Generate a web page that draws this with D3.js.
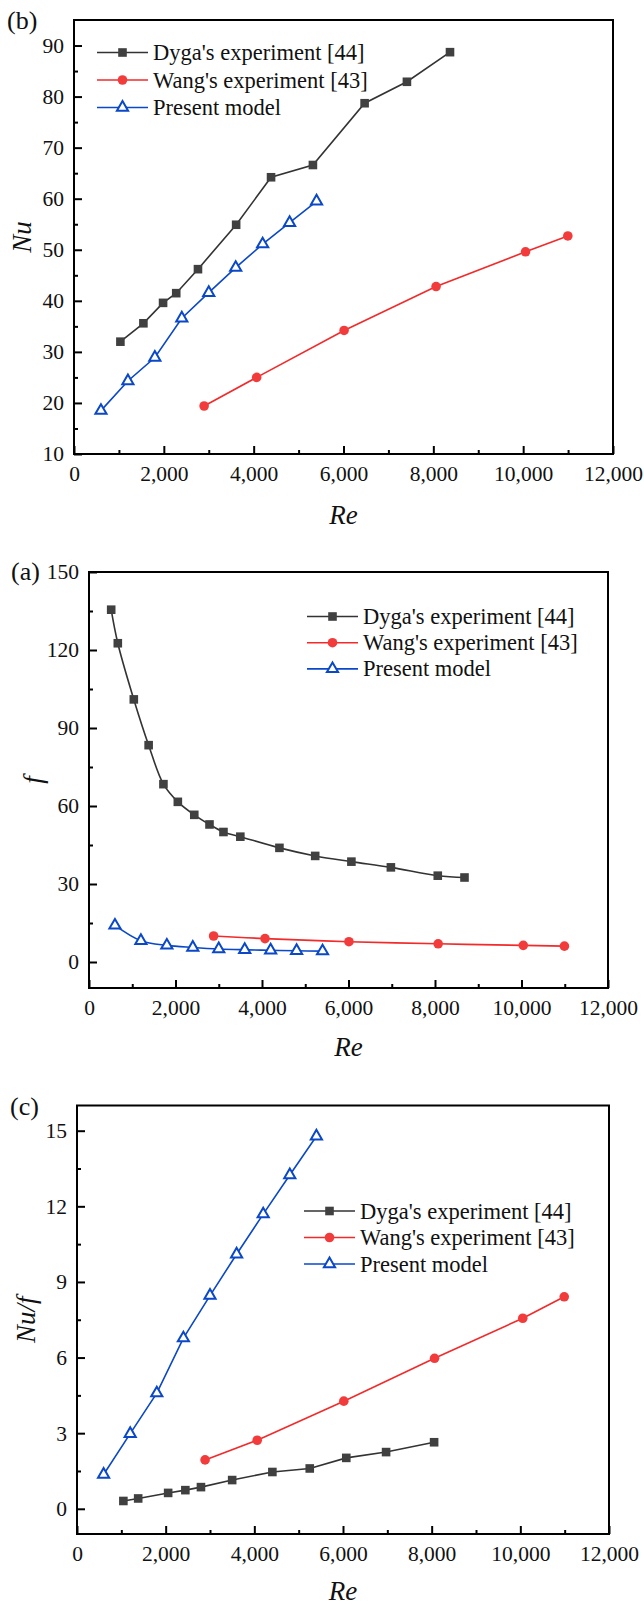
<!DOCTYPE html>
<html>
<head>
<meta charset="utf-8">
<script src="https://cdn.jsdelivr.net/npm/d3@7"></script>
<style>
  body { margin: 0; background: #fff; }
  svg, svg text { font-family: "Liberation Serif", "Tinos", "Times New Roman", "DejaVu Serif", serif; }
</style>
</head>
<body>
<svg id="chart" width="644" height="1605"></svg>
<script>
// ---------- DATA ----------
const seriesNames = ["Dyga's experiment [44]", "Wang's experiment [43]", "Present model"];
const xTicks = [0, 2000, 4000, 6000, 8000, 10000, 12000];

// Panel (b): Nu vs Re
const dygaNuRe = [1033, 1545, 1983, 2276, 2760, 3610, 4387, 5319, 6470, 7412, 8371];
const dygaNu   = [32.0, 35.6, 39.6, 41.5, 46.2, 54.9, 64.2, 66.6, 78.7, 82.9, 88.7];
const wangNuRe = [2897, 4067, 6013, 8061, 10053, 10994];
const wangNu   = [19.4, 25.0, 34.2, 42.8, 49.6, 52.7];
const presentRe = [600, 1200, 1800, 2400, 3000, 3600, 4200, 4800, 5400];
const presentNu = [18.5, 24.3, 28.9, 36.6, 41.6, 46.5, 51.1, 55.3, 59.5];
const nuTicks = [10, 20, 30, 40, 50, 60, 70, 80, 90];

// Panel (a): f vs Re
const dygaFRe = [513, 666, 1036, 1379, 1721, 2054, 2434, 2786, 3109, 3499, 4403, 5230, 6067, 6980, 8064, 8682];
const dygaF   = [135.5, 122.6, 101.0, 83.4, 68.4, 61.6, 56.6, 52.9, 50.0, 48.2, 43.9, 40.8, 38.6, 36.4, 33.2, 32.5];
const wangFRe = [2881, 4070, 6010, 8073, 10041, 10992];
const wangF   = [10.0, 9.0, 7.8, 7.0, 6.4, 6.1];
const presentF = [14.1, 8.2, 6.4, 5.6, 5.0, 4.7, 4.5, 4.3, 4.2];
const fTicks = [0, 30, 60, 90, 120, 150];

// Panel (c): Nu/f vs Re
const dygaRatioRe = [1046, 1380, 2056, 2444, 2796, 3500, 4407, 5250, 6074, 6972, 8055];
const dygaRatio   = [0.31, 0.41, 0.63, 0.74, 0.86, 1.14, 1.46, 1.60, 2.02, 2.25, 2.64];
const wangRatioRe = [2889, 4065, 6018, 8065, 10055, 10990];
const wangRatio   = [1.94, 2.72, 4.27, 5.97, 7.56, 8.41];
const presentRatio = [1.36, 2.98, 4.59, 6.77, 8.46, 10.10, 11.69, 13.24, 14.78];
const ratioTicks = [0, 3, 6, 9, 12, 15];

// ---------- STYLE ----------
const FONT = '"Liberation Serif", "Tinos", "Times New Roman", "DejaVu Serif", serif';
const colors = { dyga: "#333333", dygaMark: "#404040", wang: "#f22a2a", wangMark: "#f23c3c", present: "#0a48c8" };

const svg = d3.select("#chart");
const zip = (xs, ys) => xs.map((x, i) => [x, ys[i]]);

function panel(cfg) {
  const x = d3.scaleLinear().domain([0, 12000]).range([cfg.left, cfg.right]);
  const y = d3.scaleLinear().domain(cfg.yDomain).range([cfg.bottom, cfg.top]);
  const g = svg.append("g").attr("font-family", FONT);

  const step = cfg.yTicks[1] - cfg.yTicks[0];
  const xMinor = d3.range(1000, 12000, 2000);
  const yMinor = cfg.yTicks.slice(0, -1).map(t => t + step / 2);
  if (cfg.yTicks[cfg.yTicks.length - 1] + step / 2 < cfg.yDomain[1]) yMinor.push(cfg.yTicks[cfg.yTicks.length - 1] + step / 2);
  if (cfg.yTicks[0] - step / 2 > cfg.yDomain[0]) yMinor.unshift(cfg.yTicks[0] - step / 2);

  g.append("g").attr("transform", `translate(0,${cfg.bottom})`)
    .call(d3.axisBottom(x).tickValues(xTicks).tickSize(-8).tickPadding(12).tickFormat(d3.format(",")));
  g.append("g").attr("transform", `translate(0,${cfg.bottom})`)
    .call(d3.axisBottom(x).tickValues(xMinor).tickSize(-4).tickFormat(""));
  g.append("g").attr("transform", `translate(${cfg.left},0)`)
    .call(d3.axisLeft(y).tickValues(cfg.yTicks).tickSize(-8).tickPadding(10).tickFormat(d3.format(",")));
  g.append("g").attr("transform", `translate(${cfg.left},0)`)
    .call(d3.axisLeft(y).tickValues(yMinor).tickSize(-4).tickFormat(""));

  g.selectAll(".domain").remove();
  g.selectAll("g").attr("font-family", FONT);
  g.selectAll(".tick line").attr("stroke", "#000").attr("stroke-width", 2);
  g.selectAll(".tick text").attr("font-size", 21.5).attr("fill", "#111").attr("font-family", FONT);

  g.append("rect").attr("x", cfg.left).attr("y", cfg.top)
    .attr("width", cfg.right - cfg.left).attr("height", cfg.bottom - cfg.top)
    .attr("fill", "none").attr("stroke", "#000").attr("stroke-width", 2);

  const curve = cfg.smooth ? d3.curveCatmullRom : d3.curveLinear;
  const line = d3.line().x(d => x(d[0])).y(d => y(d[1])).curve(curve);

  cfg.series.forEach(s => {
    g.append("path").datum(s.data).attr("d", line)
      .attr("fill", "none").attr("stroke", s.color).attr("stroke-width", 1.6);
  });
  cfg.series.forEach(s => drawMarkers(g, s.data.map(d => [x(d[0]), y(d[1])]), s));

  cfg.series.forEach((s, i) => {
    const ly = cfg.legend.y + i * cfg.legend.dy;
    g.append("line").attr("x1", cfg.legend.x).attr("x2", cfg.legend.x + 51)
      .attr("y1", ly).attr("y2", ly).attr("stroke", s.color).attr("stroke-width", 1.6);
    drawMarkers(g, [[cfg.legend.x + 25.5, ly]], s);
    g.append("text").attr("x", cfg.legend.x + 56).attr("y", ly + 7.5)
      .attr("font-family", FONT).attr("font-size", 22.5).attr("fill", "#111").text(s.name);
  });

  g.append("text").attr("x", (cfg.left + cfg.right) / 2).attr("y", cfg.bottom + cfg.xtitleDy)
    .attr("text-anchor", "middle").attr("font-size", 27).attr("font-style", "italic")
    .attr("font-family", FONT).attr("fill", "#111").text("Re");
  g.append("text").attr("transform", `translate(${cfg.ytitleX},${(cfg.top + cfg.bottom) / 2}) rotate(-90)`)
    .attr("text-anchor", "middle").attr("font-size", 27).attr("font-style", "italic")
    .attr("font-family", FONT).attr("fill", "#111").text(cfg.ytitle);

  g.append("text").attr("x", cfg.label.x).attr("y", cfg.label.y)
    .attr("font-family", FONT).attr("font-size", 26).attr("fill", "#111").text(cfg.label.text);
}

function drawMarkers(g, pts, s) {
  if (s.shape === "square") {
    g.selectAll(null).data(pts).enter().append("rect")
      .attr("x", d => d[0] - 4.3).attr("y", d => d[1] - 4.3)
      .attr("width", 8.6).attr("height", 8.6).attr("fill", s.mark);
  } else if (s.shape === "circle") {
    g.selectAll(null).data(pts).enter().append("circle")
      .attr("cx", d => d[0]).attr("cy", d => d[1]).attr("r", 4.8).attr("fill", s.mark);
  } else {
    const sym = d3.symbol().type(d3.symbolTriangle).size(54);
    g.selectAll(null).data(pts).enter().append("path")
      .attr("d", sym).attr("transform", d => `translate(${d[0]},${d[1]})`)
      .attr("fill", "#fff").attr("stroke", s.mark).attr("stroke-width", 2);
  }
}

function seriesSet(dyga, wang, present) {
  return [
    { name: seriesNames[0], data: dyga, color: colors.dyga, mark: colors.dygaMark, shape: "square" },
    { name: seriesNames[1], data: wang, color: colors.wang, mark: colors.wangMark, shape: "circle" },
    { name: seriesNames[2], data: present, color: colors.present, mark: colors.present, shape: "triangle" }
  ];
}

// (b)
panel({
  left: 74, right: 613, top: 20, bottom: 454, yDomain: [10, 95], yTicks: nuTicks,
  ytitle: "Nu", ytitleX: 31, smooth: false, xtitleDy: 70,
  label: { x: 7, y: 29, text: "(b)" },
  legend: { x: 97, y: 52.5, dy: 27.5 },
  series: seriesSet(zip(dygaNuRe, dygaNu), zip(wangNuRe, wangNu), zip(presentRe, presentNu))
});

// (a)
panel({
  left: 89, right: 608, top: 572, bottom: 988, yDomain: [-10, 150], yTicks: fTicks,
  ytitle: "f", ytitleX: 42, smooth: true, xtitleDy: 68,
  label: { x: 11, y: 580, text: "(a)" },
  legend: { x: 307, y: 616.5, dy: 26.2 },
  series: seriesSet(zip(dygaFRe, dygaF), zip(wangFRe, wangF), zip(presentRe, presentF))
});

// (c)
panel({
  left: 77, right: 609, top: 1105.5, bottom: 1534, yDomain: [-1, 16], yTicks: ratioTicks,
  ytitle: "Nu/f", ytitleX: 35, smooth: false, xtitleDy: 66,
  label: { x: 10, y: 1115, text: "(c)" },
  legend: { x: 304, y: 1211, dy: 26.5 },
  series: seriesSet(zip(dygaRatioRe, dygaRatio), zip(wangRatioRe, wangRatio), zip(presentRe, presentRatio))
});
</script>
</body>
</html>
